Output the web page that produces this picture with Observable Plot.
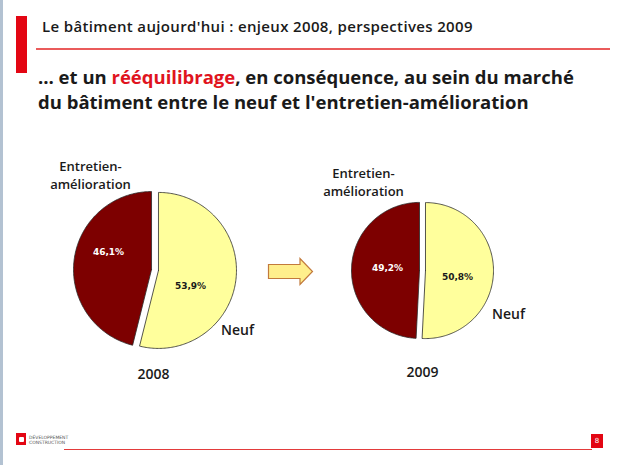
<!DOCTYPE html>
<html>
<head>
<meta charset="utf-8">
<script src="https://cdn.jsdelivr.net/npm/d3@7"></script>
<script src="https://cdn.jsdelivr.net/npm/@observablehq/plot@0.6"></script>
<style>
  html, body { margin: 0; padding: 0; background: #fff; }
  #slide { position: relative; width: 620px; height: 465px; overflow: hidden; background: #fff; font-family: "Open Sans", sans-serif; color: #1a1a1a; }
  .abs { position: absolute; }
  #header { left: 42px; top: 16px; font-size: 15px; font-weight: 600; white-space: nowrap; letter-spacing: 0.35px; }
  #subtitle { left: 38px; top: 64px; font-size: 18.5px; font-weight: 700; line-height: 25px; white-space: nowrap; }
  #subtitle .red { color: #e0141e; }
  #chart { left: 0; top: 140px; }
  .tiny { font-size: 4.5px; line-height: 5px; color: #555; font-family: "DejaVu Sans", sans-serif; }
</style>
</head>
<body>
<div id="slide">
  <div class="abs" style="left:0;top:0;width:3px;height:465px;background:#b3c2d2"></div>
  <div class="abs" style="left:16px;top:16px;width:11px;height:57px;background:#e30613"></div>
  <div class="abs" id="header">Le bâtiment aujourd'hui : enjeux 2008, perspectives 2009</div>
  <div class="abs" style="left:36px;top:48px;width:574px;height:1.5px;background:#ea5b5b"></div>
  <div class="abs" id="subtitle">… et un <span class="red">rééquilibrage</span>, en conséquence, au sein du marché<br>du bâtiment entre le neuf et l'entretien-amélioration</div>
  <div class="abs" id="chart"></div>
  <svg class="abs" style="left:0;top:0" width="620" height="465" pointer-events="none">
    <polygon points="268.5,264.5 300,264.5 300,258.5 312.5,271.5 300,284.5 300,278.5 268.5,278.5" fill="#ffef8c" stroke="#c27a3c" stroke-width="1.2"/>
  </svg>
  <div class="abs" style="left:16px;top:433px;width:10px;height:12px;background:#e30613"></div>
  <div class="abs" style="left:18.5px;top:437px;width:5px;height:5px;background:#fff;border-radius:1px"></div>
  <div class="abs tiny" style="left:29px;top:435px">DÉVELOPPEMENT<br>CONSTRUCTION</div>
  <div class="abs" style="left:64px;top:449px;width:528px;height:1.2px;background:#e33b3b"></div>
  <div class="abs" style="left:591px;top:434px;width:12px;height:14px;background:#e30613;color:#fff;font-size:7px;line-height:14px;text-align:center;font-family:'DejaVu Sans',sans-serif">8</div>
</div>
<script>
// ---- data ----
const years = ["2008", "2009"];
const categories = ["Neuf", "Entretien-amélioration"];
const neufValues = [53.9, 50.8];
const entretienValues = [46.1, 49.2];
const pctLabels = [["53,9%", "46,1%"], ["50,8%", "49,2%"]];

// ---- layout (pixel positions on the slide) ----
const pieLayout = [
  {cx: 154.5, cy: 269.5, r: 78, explode: 3.5, catLabel: [90, 174], neufLabel: [237, 330], yearLabel: [153, 374], pct: [[190, 286], [108, 252]]},
  {cx: 422, cy: 270, r: 68, explode: 3, catLabel: [363, 181], neufLabel: [508, 314], yearLabel: [422, 372], pct: [[457, 277], [387, 268]]}
];
const sliceColors = ["#ffff9c", "#7d0000"];
const pctColors = ["#1a1a1a", "#ffffff"];

// build slice polygons from the values
const slices = [];
years.forEach((yr, i) => {
  const L = pieLayout[i];
  const vals = [neufValues[i], entretienValues[i]];
  const total = d3.sum(vals);
  let a0 = 0;
  vals.forEach((v, j) => {
    const a1 = a0 + (v / total) * 2 * Math.PI;
    const am = (a0 + a1) / 2;
    const ox = L.cx + L.explode * Math.sin(am);
    const oy = L.cy - L.explode * Math.cos(am);
    const id = yr + "-" + j;
    slices.push({id, cat: j, x: ox, y: oy});
    const n = Math.max(2, Math.ceil((a1 - a0) / (Math.PI / 180)));
    for (let k = 0; k <= n; k++) {
      const t = a0 + (a1 - a0) * k / n;
      slices.push({id, cat: j, x: ox + L.r * Math.sin(t), y: oy - L.r * Math.cos(t)});
    }
    slices.push({id, cat: j, x: ox, y: oy});
    a0 = a1;
  });
});

const pctData = [];
const catData = [];
years.forEach((yr, i) => {
  const L = pieLayout[i];
  [0, 1].forEach(j => pctData.push({x: L.pct[j][0], y: L.pct[j][1], text: pctLabels[i][j], cat: j}));
  catData.push({x: L.catLabel[0], y: L.catLabel[1], text: "Entretien-\namélioration", size: 13});
  catData.push({x: L.neufLabel[0], y: L.neufLabel[1], text: categories[0], size: 14});
  catData.push({x: L.yearLabel[0], y: L.yearLabel[1], text: yr, size: 14});
});

const marks = [];
for (const [id, pts] of d3.group(slices, d => d.id)) {
  const cat = pts[0].cat;
  marks.push(Plot.line(pts, {x: "x", y: "y", fill: sliceColors[cat], stroke: "#2a2a2a", strokeWidth: 0.8, curve: "linear"}));
}
marks.push(Plot.text(pctData.filter(d => d.cat === 0), {x: "x", y: "y", text: "text", fill: pctColors[0], fontSize: 9, fontWeight: "bold", fontFamily: "DejaVu Sans"}));
marks.push(Plot.text(pctData.filter(d => d.cat === 1), {x: "x", y: "y", text: "text", fill: pctColors[1], fontSize: 9, fontWeight: "bold", fontFamily: "DejaVu Sans"}));
marks.push(Plot.text(catData.filter(d => d.size === 13), {x: "x", y: "y", text: "text", fill: "#1a1a1a", fontSize: 13, fontWeight: 600, fontFamily: "Open Sans", lineHeight: 1.36}));
marks.push(Plot.text(catData.filter(d => d.size === 14), {x: "x", y: "y", text: "text", fill: "#1a1a1a", fontSize: 14, fontWeight: 600, fontFamily: "Open Sans"}));

const chart = Plot.plot({
  width: 620,
  height: 250,
  margin: 0,
  x: {domain: [0, 620], range: [0, 620], axis: null},
  y: {domain: [140, 390], range: [0, 250], axis: null},
  style: {background: "transparent", overflow: "visible"},
  marks
});
document.getElementById("chart").appendChild(chart);
</script>
</body>
</html>
